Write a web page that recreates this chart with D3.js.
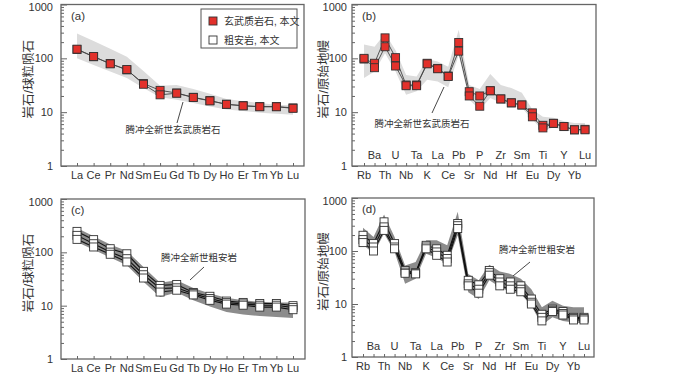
<!DOCTYPE html>
<html><head><meta charset="utf-8">
<script src="https://cdn.jsdelivr.net/npm/d3@7"></script>
<style>
html,body{margin:0;padding:0;background:#fff;}
svg text{font-family:'Liberation Sans','Noto Sans CJK SC',Arial,sans-serif;fill:#333;}
</style></head><body>
<svg id="c" width="700" height="375"></svg>
<script>
// ---------- data ----------
const reeElems = ['La','Ce','Pr','Nd','Sm','Eu','Gd','Tb','Dy','Ho','Er','Tm','Yb','Lu'];
const spiderElems = ['Rb','Ba','Th','U','Nb','Ta','K','La','Ce','Pb','Sr','P','Nd','Zr','Hf','Sm','Eu','Ti','Dy','Y','Yb','Lu'];
const yTicks = [1,10,100,1000];

// basalt REE (panel a)
const basaltREE1 = [146,107,80,61,34,25.4,22.7,18.9,16.4,14,13.2,12.7,12.7,12];
const basaltREE2 = [148,108,79,62,33,21,22.5,18.7,16.2,14,13.1,12.6,12.6,11.8];
const basaltREEBandHi = [288,210,150,107,58,31,32,27,22,17.6,16,14.8,13.8,13.3];
const basaltREEBandLo = [100,75,57,43,28,19,17,14.8,12.8,11.2,10.5,9.8,9.3,9];

// basalt spider (panel b)
const basaltSp1 = [97,81,240,103,32,32,81,65,47,197,24,20,25,17.6,14.9,13.6,9.7,5.7,6.2,5.4,4.7,4.8];
const basaltSp2 = [100,67,164,72,31,31,79,64,46,136,20,12.9,25,17.6,14.9,13.6,8.2,5.1,6.2,5.4,4.7,4.7];
const basaltSpBandHi = [181,164,288,142,49,46,96,87,70,341,32,27,51,32,28,23,11.2,8.2,7.9,6.8,6.3,6.3];
const basaltSpBandLo = [43,57,124,57,21,24.5,40,37,29,115,17,11.2,18.3,14.9,13.3,12,7.3,4.5,5.2,4.7,4.3,4.2];

// trachyandesite REE (panel c)
const trachyREE1 = [247,173,117,94,44,24,25,17.7,15,12.2,11.5,11,11,10];
const trachyREE2 = [208,145,101,76,38,21,21.6,16.8,13.6,11.4,10.8,10.2,10.2,9.2];
const trachyREE3 = [175,126,92,66,33,18,19.5,15.9,12.6,10.7,10.2,9.4,9.4,8.4];
const trachyREEBandHi = [285,200,140,106,53,27,30,21.5,17,14,12.6,11.8,11.5,11.5];
const trachyREEBandLo = [156,112,80,57,28,14.6,17.7,12.6,9.6,7.6,6.8,6.4,6.1,5.9];

// trachyandesite spider (panel d)
const trachySp1 = [198,138,355,138,43,39,128,110,83,330,28,23,43,30,26,22,12.4,6.4,8,7.2,5.6,5.6];
const trachySp2 = [164,119,285,119,40,38,119,96,72,300,24,19,39,26,22,19,10.8,5.6,7.6,6.6,5.3,5.3];
const trachySp3 = [144,100,245,110,38,37,110,83,62,265,22,16,35,22,19,17,10,4.8,7.2,6.2,5,5];
const trachySpBandHi = [274,184,490,184,53,62,159,159,128,550,37,28,55,41,37,30,19,8.7,11.5,9.3,8.7,8.7];
const trachySpBandLo = [132,89,213,96,24,30,89,74,57,198,16.6,12.4,28,21,17,15.5,9.3,4.0,5.6,4.8,4.5,4.3];

// ---------- drawing ----------
const svg = d3.select('#c');
const RED = '#e2312b';

const panels = [
  {label:'(a)', elems:reeElems, frame:[61,304,4.5,166], pts:[77,293], title:'岩石/球粒陨石', titleX:28, tickPad:8,
   band:[basaltREEBandLo,basaltREEBandHi], bandColor:'#dcdcdc', series:[basaltREE1,basaltREE2], fill:RED, lineColor:'#444', lw:0.9,
   note:'腾冲全新世玄武质岩石', noteXY:[173,133], noteLine:[[183,102],[177,123]], twoRows:false},
  {label:'(b)', elems:spiderElems, frame:[352,596,4.5,166], pts:[364,585], title:'岩石/原始地幔', titleX:323, tickPad:5,
   band:[basaltSpBandLo,basaltSpBandHi], bandColor:'#dcdcdc', series:[basaltSp1,basaltSp2], fill:RED, lineColor:'#444', lw:0.9,
   note:'腾冲全新世玄武质岩石', noteXY:[422,127], noteLine:[[444,87],[432,113]], twoRows:true},
  {label:'(c)', elems:reeElems, frame:[61,305,199,359], pts:[77,293], title:'岩石/球粒陨石', titleX:28, tickPad:8,
   band:[trachyREEBandLo,trachyREEBandHi], bandColor:'#8c8c8c', series:[trachyREE1,trachyREE2,trachyREE3], fill:'#fff', lineColor:'#111', lw:1.1,
   note:'腾冲全新世粗安岩', noteXY:[199,261], noteLine:[[204,267],[190,280]], twoRows:false},
  {label:'(d)', elems:spiderElems, frame:[352,594,198,357], pts:[363,584], title:'岩石/原始地幔', titleX:323, tickPad:5,
   band:[trachySpBandLo,trachySpBandHi], bandColor:'#8c8c8c', series:[trachySp1,trachySp2,trachySp3], fill:'#fff', lineColor:'#111', lw:1.1,
   note:'腾冲全新世粗安岩', noteXY:[537,253], noteLine:[[530,262],[513,276]], twoRows:true}
];

panels.forEach(p => {
  const [x0,x1,y0,y1] = p.frame;
  const x = d3.scalePoint().domain(p.elems).range(p.pts);
  const y = d3.scaleLog().domain([1,1000]).range([y1,y0]);
  const g = svg.append('g');

  // band
  const area = d3.area().x((d,i)=>x(p.elems[i])).y0((d,i)=>y(p.band[0][i])).y1((d,i)=>y(p.band[1][i]));
  g.append('path').datum(p.elems).attr('d',area).attr('fill',p.bandColor).attr('stroke','none');

  // lines
  const line = d3.line().x((d,i)=>x(p.elems[i])).y(d=>y(d));
  p.series.forEach(s=>{
    g.append('path').datum(s).attr('d',line).attr('fill','none').attr('stroke',p.lineColor).attr('stroke-width',p.lw);
  });
  // squares
  p.series.forEach(s=>{
    g.selectAll(null).data(s).enter().append('rect')
      .attr('x',(d,i)=>x(p.elems[i])-4).attr('y',d=>y(d)-4)
      .attr('width',8).attr('height',8)
      .attr('fill',p.fill).attr('stroke','#333').attr('stroke-width',0.9);
  });

  // frame
  g.append('rect').attr('x',x0).attr('y',y0).attr('width',x1-x0).attr('height',y1-y0)
    .attr('fill','none').attr('stroke','#666').attr('stroke-width',1.3);

  // y axis major
  const minors = [];
  [1,10,100].forEach(b=>{for(let k=2;k<10;k++) minors.push(b*k);});
  const ya = g.append('g').attr('transform',`translate(${x0},0)`)
    .call(d3.axisLeft(y).tickValues(yTicks).tickSize(-6).tickPadding(p.tickPad).tickFormat(d3.format('d')));
  ya.select('.domain').remove();
  ya.selectAll('line').attr('stroke','#666');
  ya.selectAll('text').attr('font-size',11).attr('fill','#333')
    .attr('dy', d => d===1000 ? '0.55em' : '0.32em');
  const ym = g.append('g').attr('transform',`translate(${x0},0)`)
    .call(d3.axisLeft(y).tickValues(minors).tickSize(-3).tickFormat(''));
  ym.select('.domain').remove();
  ym.selectAll('line').attr('stroke','#666');

  // x axis ticks (inside)
  const xa = g.append('g').attr('transform',`translate(0,${y1})`)
    .call(d3.axisBottom(x).tickSize(-3).tickFormat(''));
  xa.select('.domain').remove();
  xa.selectAll('line').attr('stroke','#666');

  // x labels
  g.selectAll(null).data(p.elems).enter().append('text')
    .attr('x',d=>x(d)).attr('y',(d,i)=> (!p.twoRows || i%2===0) ? y1+13 : y1-7)
    .attr('text-anchor','middle').attr('font-size',11).text(d=>d);

  // y title
  const cy = (y0+y1)/2 - 6;
  g.append('text').attr('transform',`translate(${p.titleX+5},${cy}) rotate(-90)`)
    .attr('text-anchor','middle').attr('font-size',12.5).text(p.title);

  // panel label
  g.append('text').attr('x',x0+10).attr('y',y0+15).attr('font-size',11.5).text(p.label);

  // annotation
  g.append('line').attr('x1',p.noteLine[0][0]).attr('y1',p.noteLine[0][1])
    .attr('x2',p.noteLine[1][0]).attr('y2',p.noteLine[1][1]).attr('stroke','#333').attr('stroke-width',0.9);
  g.append('text').attr('x',p.noteXY[0]).attr('y',p.noteXY[1]).attr('text-anchor','middle')
    .attr('font-size',9.5).text(p.note);
});

// legend in panel (a)
const lg = svg.append('g');
lg.append('rect').attr('x',201).attr('y',9).attr('width',96).attr('height',39)
  .attr('fill','#fff').attr('stroke','#555').attr('stroke-width',1);
const legendItems = [{t:'玄武质岩石, 本文', f:RED},{t:'粗安岩, 本文', f:'#fff'}];
legendItems.forEach((it,i)=>{
  const cy = 21 + i*19;
  lg.append('rect').attr('x',209).attr('y',cy-4).attr('width',8).attr('height',8)
    .attr('fill',it.f).attr('stroke','#333').attr('stroke-width',0.9);
  lg.append('text').attr('x',224).attr('y',cy+3.5).attr('font-size',10).text(it.t);
});
</script>
</body></html>
